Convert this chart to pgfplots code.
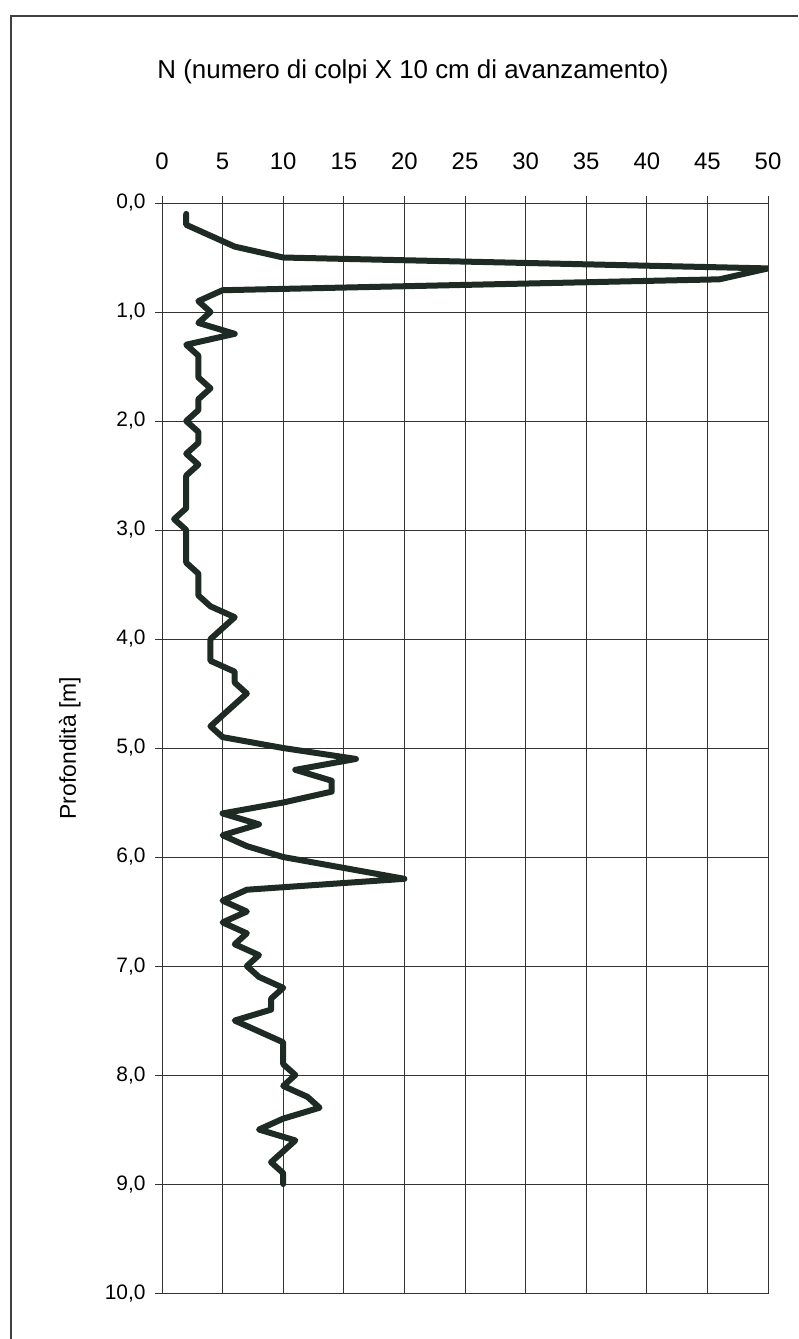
\documentclass[border=0pt]{standalone}
\usepackage{pgfplots}
\pgfplotsset{compat=1.18}
\usepackage{fontspec}
\setmainfont{Liberation Sans}
\definecolor{curve}{HTML}{1E2A24}
\definecolor{gridc}{HTML}{333333}
\pgfplotstableread{
d N
0.1 2
0.2 2
0.3 4
0.4 6
0.5 10
0.6 50
0.7 46
0.8 5
0.9 3
1.0 4
1.1 3
1.2 6
1.3 2
1.4 3
1.5 3
1.6 3
1.7 4
1.8 3
1.9 3
2.0 2
2.1 3
2.2 3
2.3 2
2.4 3
2.5 2
2.6 2
2.7 2
2.8 2
2.9 1
3.0 2
3.1 2
3.2 2
3.3 2
3.4 3
3.5 3
3.6 3
3.7 4
3.8 6
3.9 5
4.0 4
4.1 4
4.2 4
4.3 6
4.4 6
4.5 7
4.6 6
4.7 5
4.8 4
4.9 5
5.0 10
5.1 16
5.2 11
5.3 14
5.4 14
5.5 10
5.6 5
5.7 8
5.8 5
5.9 7
6.0 10
6.1 15
6.2 20
6.3 7
6.4 5
6.5 7
6.6 5
6.7 7
6.8 6
6.9 8
7.0 7
7.1 8
7.2 10
7.3 9
7.4 9
7.5 6
7.6 8
7.7 10
7.8 10
7.9 10
8.0 11
8.1 10
8.2 12
8.3 13
8.4 10
8.5 8
8.6 11
8.7 10
8.8 9
8.9 10
9.0 10
}\dpsh
\begin{document}
\begin{tikzpicture}[x=1bp,y=1bp]
\useasboundingbox (0,0) rectangle (798,-1339);
\fill[white] (0,0) rectangle (798,-1339);
\draw[line width=1.3bp, black!75] (11,-1339) -- (11,-16) -- (798,-16);
\begin{axis}[
  at={(162bp,-203bp)}, anchor=north west,
  scale only axis, width=606bp, height=1090bp,
  xmin=0, xmax=50, ymin=0, ymax=10,
  y dir=reverse,
  xtick={0,5,...,50}, ytick={0,1,...,10},
  xtick pos=upper, xticklabel pos=upper,
  ytick pos=left,
  tick align=outside, major tick length=7bp,
  tick style={gridc, line width=0.9bp},
  grid=major,
  major grid style={gridc, line width=1bp},
  axis line style={gridc, line width=1bp},
  /pgf/number format/assume math mode=true,
  xticklabel style={font=\fontsize{24}{28}\selectfont, yshift=23bp},
  yticklabel style={font=\fontsize{21}{25}\selectfont, xshift=-6bp,
    /pgf/number format/.cd, fixed, fixed zerofill, precision=1, use comma},
  title={N (numero di colpi X 10 cm di avanzamento)},
  every axis title/.style={at={(axis description cs:0.5,1)}, anchor=center,
    yshift=131bp, xshift=-52bp, font=\fontsize{26}{30}\selectfont},
  ylabel={Profondità [m]},
  every axis y label/.style={at={(axis description cs:-0.152,0.5)}, rotate=90,
    anchor=center, font=\fontsize{23}{27}\selectfont},
]
\addplot[curve, line width=6bp, line join=round, line cap=round] table[x=N, y=d] {\dpsh};
\end{axis}
\end{tikzpicture}
\end{document}
